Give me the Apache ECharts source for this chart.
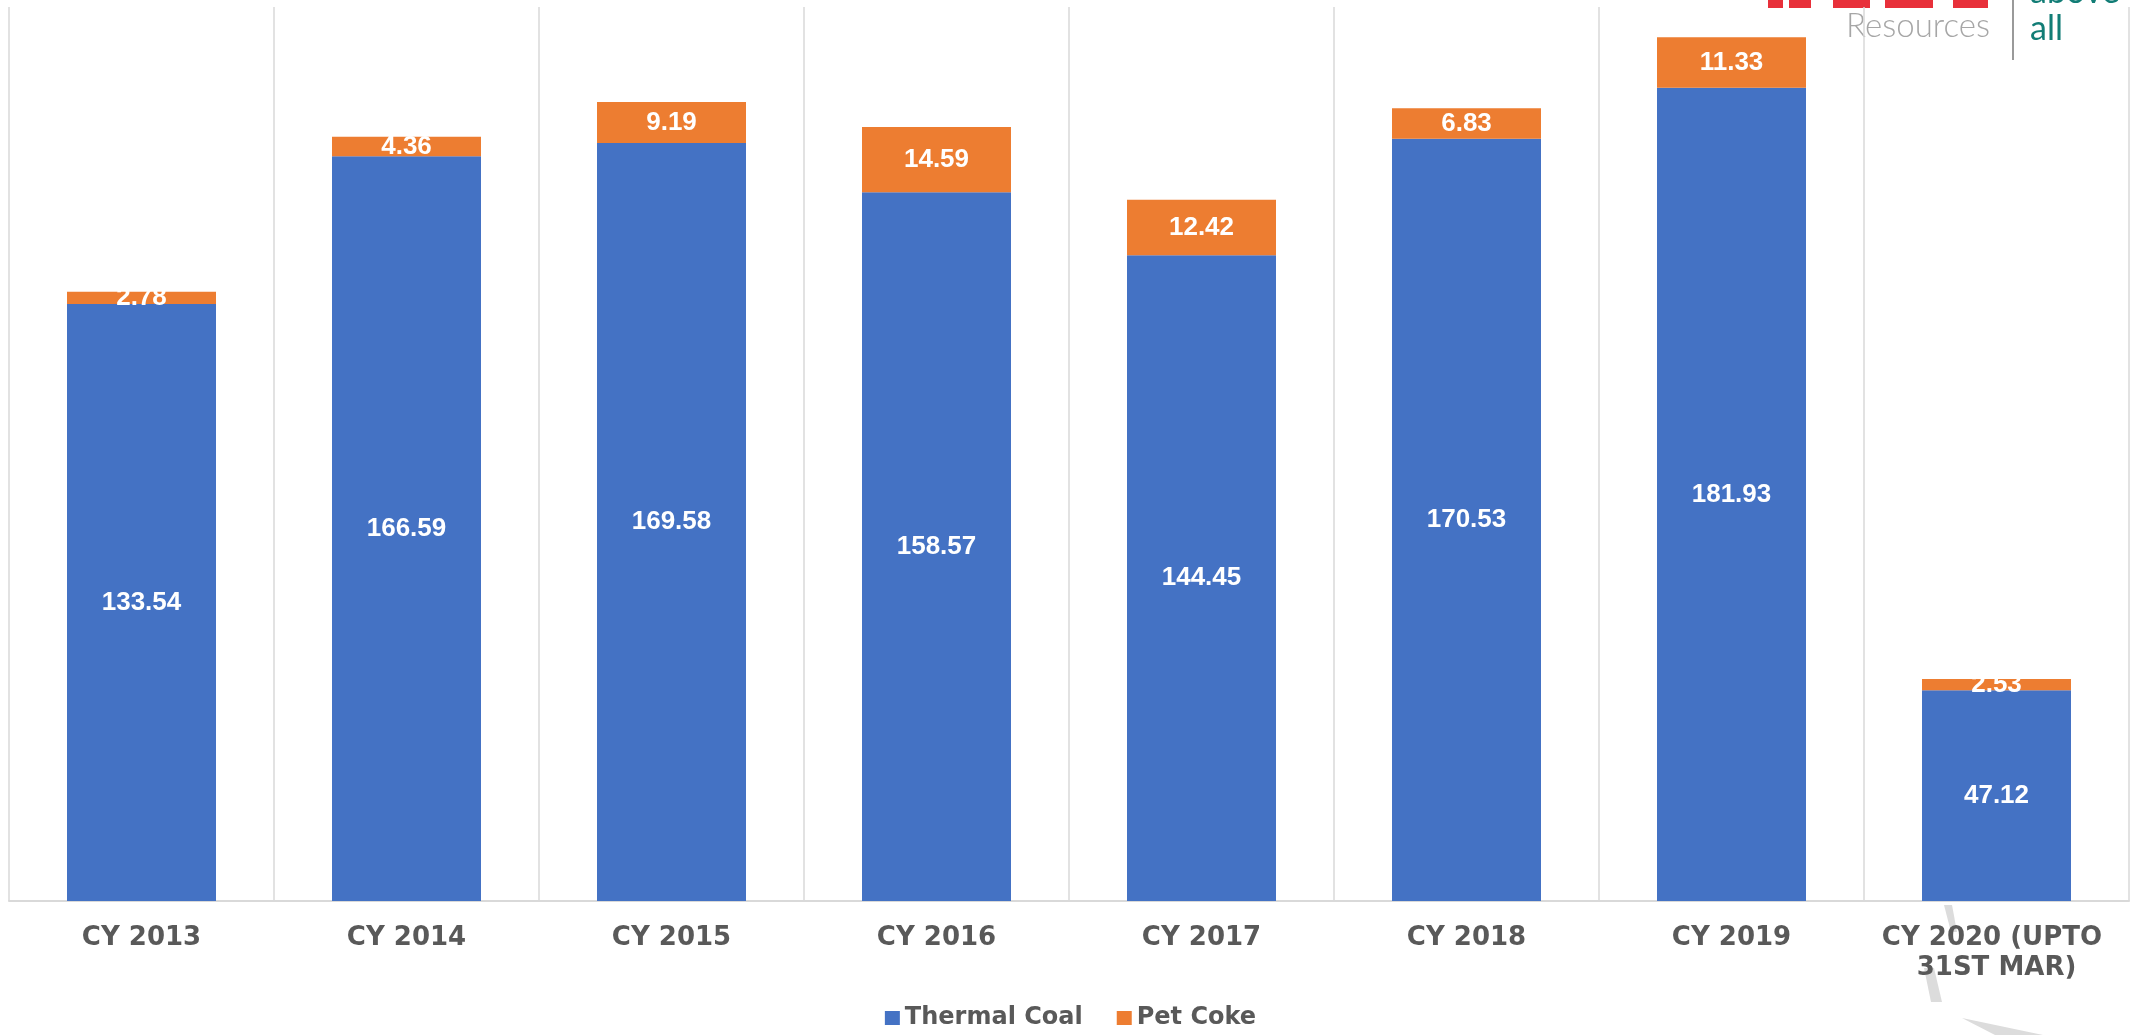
<!DOCTYPE html>
<html>
<head>
<meta charset="utf-8">
<title>Thermal Coal and Pet Coke</title>
<script src="https://cdn.jsdelivr.net/npm/echarts@6/dist/echarts.min.js"></script>
<style>
  html, body { margin: 0; padding: 0; background: #fff; }
  #main { width: 2141px; height: 1035px; }
</style>
</head>
<body>
<div id="main"></div>
<script>
var categories = ['CY 2013', 'CY 2014', 'CY 2015', 'CY 2016', 'CY 2017', 'CY 2018', 'CY 2019', 'CY 2020 (UPTO 31ST MAR)'];
var thermalCoal = [133.54, 166.59, 169.58, 158.57, 144.45, 170.53, 181.93, 47.12];
var petCoke = [2.78, 4.36, 9.19, 14.59, 12.42, 6.83, 11.33, 2.53];

var chart = echarts.init(document.getElementById('main'));

var barLabel = {
    show: true,
    position: 'inside',
    color: '#fff',
    fontFamily: 'Liberation Sans',
    fontWeight: 'bold',
    fontSize: 26
};

var option = {
    animation: false,
    grid: { left: 9, right: 12, top: 7, bottom: 134 },
    legend: {
        bottom: 0,
        left: 'center',
        itemWidth: 15,
        itemHeight: 14,
        itemGap: 34,
        icon: 'rect',
        textStyle: { fontFamily: 'DejaVu Sans', fontWeight: 'bold', fontSize: 24, color: '#595959' },
        data: ['Thermal Coal', 'Pet Coke']
    },
    xAxis: {
        type: 'category',
        data: categories,
        axisTick: { show: false },
        axisLine: { lineStyle: { color: '#d9d9d9', width: 2 } },
        splitLine: { show: true, lineStyle: { color: '#d9d9d9', width: 1.5 } },
        axisLabel: {
            interval: 0,
            margin: 22,
            width: 250,
            overflow: 'break',
            lineHeight: 30,
            fontFamily: 'DejaVu Sans',
            fontWeight: 'bold',
            fontSize: 26,
            color: '#595959'
        }
    },
    yAxis: {
        type: 'value',
        min: 0,
        max: 200,
        show: false,
        splitLine: { show: false }
    },
    series: [
        {
            name: 'Thermal Coal',
            type: 'bar',
            stack: 'total',
            barWidth: 149,
            itemStyle: { color: '#4472C4' },
            label: barLabel,
            data: thermalCoal
        },
        {
            name: 'Pet Coke',
            type: 'bar',
            stack: 'total',
            barWidth: 149,
            itemStyle: { color: '#ED7D31' },
            label: barLabel,
            data: petCoke
        }
    ],
    graphic: [
        // logo pieces in the top right corner
        { type: 'rect', shape: { x: 1768, y: 0, width: 15, height: 8 }, style: { fill: '#e8303a' } },
        { type: 'rect', shape: { x: 1789, y: 0, width: 22, height: 8 }, style: { fill: '#e8303a' } },
        { type: 'rect', shape: { x: 1833, y: 0, width: 37, height: 8 }, style: { fill: '#e8303a' } },
        { type: 'rect', shape: { x: 1885, y: 0, width: 48, height: 8 }, style: { fill: '#e8303a' } },
        { type: 'rect', shape: { x: 1953, y: 0, width: 35, height: 8 }, style: { fill: '#e8303a' } },
        { type: 'text', x: 1846, y: 43, style: { text: 'Resources', fontFamily: 'Lato', fontWeight: 300, fontSize: 33, fill: '#a6a6a6', textVerticalAlign: 'bottom' } },
        { type: 'line', shape: { x1: 2013, y1: 0, x2: 2013, y2: 60 }, style: { stroke: '#9a9a9a', lineWidth: 2 } },
        { type: 'text', x: 2030, y: 9, style: { text: 'above', fontFamily: 'Lato', fontSize: 34, fill: '#127d76', textVerticalAlign: 'bottom' } },
        { type: 'text', x: 2030, y: 46, style: { text: 'all', fontFamily: 'Lato', fontSize: 34, fill: '#127d76', textVerticalAlign: 'bottom' } },
        // grey decorative slivers near the last label
        { type: 'polygon', shape: { points: [[1944, 905], [1952, 905], [1957, 932], [1951, 932]] }, style: { fill: '#dcdcdc' } },
        { type: 'polygon', shape: { points: [[1924, 968], [1934, 968], [1942, 1002], [1931, 1002]] }, style: { fill: '#dcdcdc' } },
        { type: 'polygon', shape: { points: [[1962, 1018], [2043, 1035], [1995, 1035]] }, style: { fill: '#dcdcdc' } }
    ]
};

chart.setOption(option);
</script>
</body>
</html>
